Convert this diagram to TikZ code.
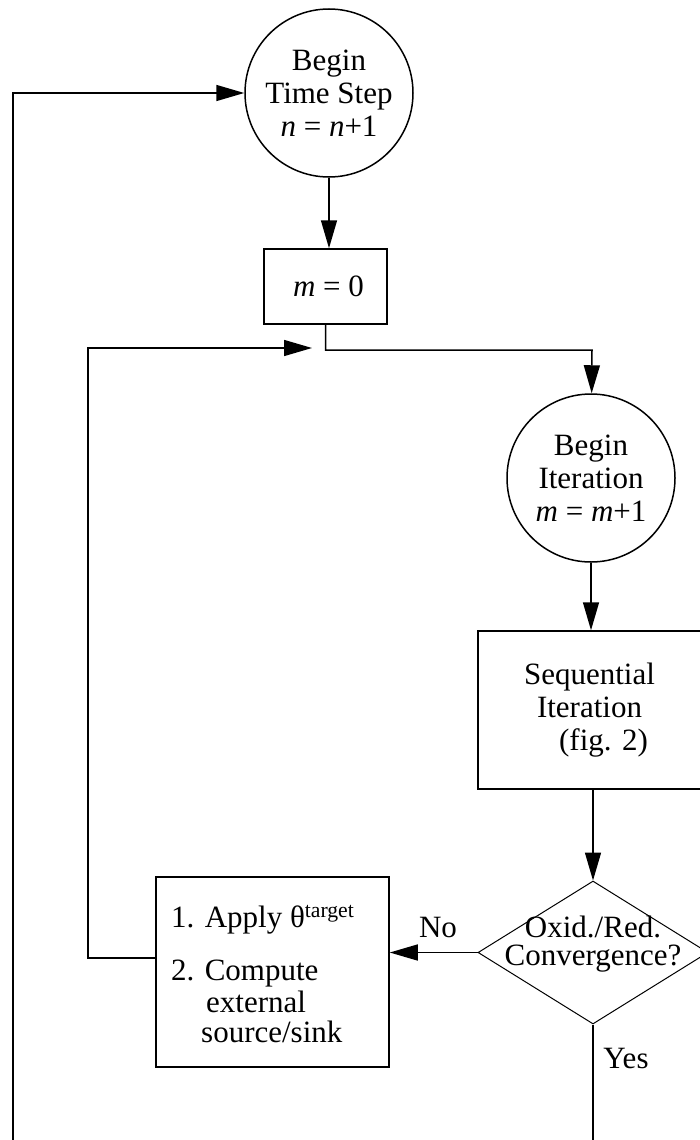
\documentclass[tikz,border=0pt]{standalone}
\usepackage{fontspec}
\setmainfont{Liberation Serif}
\usetikzlibrary{arrows.meta,shapes.geometric}
\begin{document}
\begin{tikzpicture}[x=1pt,y=-1pt,
  every node/.style={font=\fontsize{31}{33}\selectfont},
  line/.style={line width=1.5pt},
  arr/.style={line, -{Triangle[length=28pt,width=16pt]}},
  roundbox/.style={circle, draw, line width=1.5pt, minimum size=168pt, inner sep=0pt, align=center},
  plainbox/.style={rectangle, draw, line width=1.5pt, inner sep=0pt, align=center},
  decision/.style={diamond, draw, line width=1pt, inner sep=0pt, minimum width=230pt, minimum height=143pt},
  lbl/.style={inner sep=0pt}]
\useasboundingbox (0,0) rectangle (699,1140);

% nodes of the flow chart
\node[roundbox] (ts) at (329,93) {Begin\\Time Step\\\textit{n} = \textit{n}+1};
\node[plainbox, minimum width=123pt, minimum height=75pt] (m0) at (325.5,286.5) {\hspace*{6pt}\textit{m} = 0};
\node[roundbox] (it) at (591,478) {Begin\\Iteration\\\textit{m} = \textit{m}+1};
\node[plainbox, minimum width=223pt, minimum height=158pt] (seq) at (589.5,710) {Sequential\\Iteration\\\hspace*{28pt}(fig. 2)};
\node[decision] (conv) at (593,952.5) {};
\node[lbl, align=center, font=\fontsize{31}{28}\selectfont] (convtext) at (593,944) {Oxid./Red.\\Convergence?};
\node[plainbox, minimum width=233pt, minimum height=190pt] (app) at (272.5,972) {};
\node[lbl, anchor=base west] (app1) at (171,927) {1. Apply θ\textsuperscript{target}};
\node[lbl, anchor=base west] (app2) at (171,980) {2. Compute};
\node[lbl, anchor=base west] (app3) at (206,1012) {external};
\node[lbl, anchor=base west] (app4) at (201,1042) {source/sink};

% helper points for the loops
\coordinate (jn) at (592,350);
\coordinate (fbc) at (88,348);
\coordinate (fbt) at (312,348);
\coordinate (lbot) at (13,1145);
\coordinate (ybot) at (593,1145);

% connectors
\draw[arr] (ts.south) -- (ts.south |- m0.north);
\draw[arr] (m0.south) |- (jn) -- (it);
\draw[arr] (it.south) -- (it.south |- seq.north);
\draw[arr] (conv.north |- seq.south) -- (conv.north);
\draw[arr] (conv.west) -- (app.east |- conv.west)
  node[lbl, pos=0.45, above=14pt] (no) {No};
\draw[line] (conv.south) -- (ybot);
\node[lbl] (yes) at (626,1058) {Yes};
\draw[arr] ([yshift=14pt]app.west) -| (fbc) -- (fbt);
\draw[arr] (lbot) |- (ts);
\end{tikzpicture}
\end{document}
